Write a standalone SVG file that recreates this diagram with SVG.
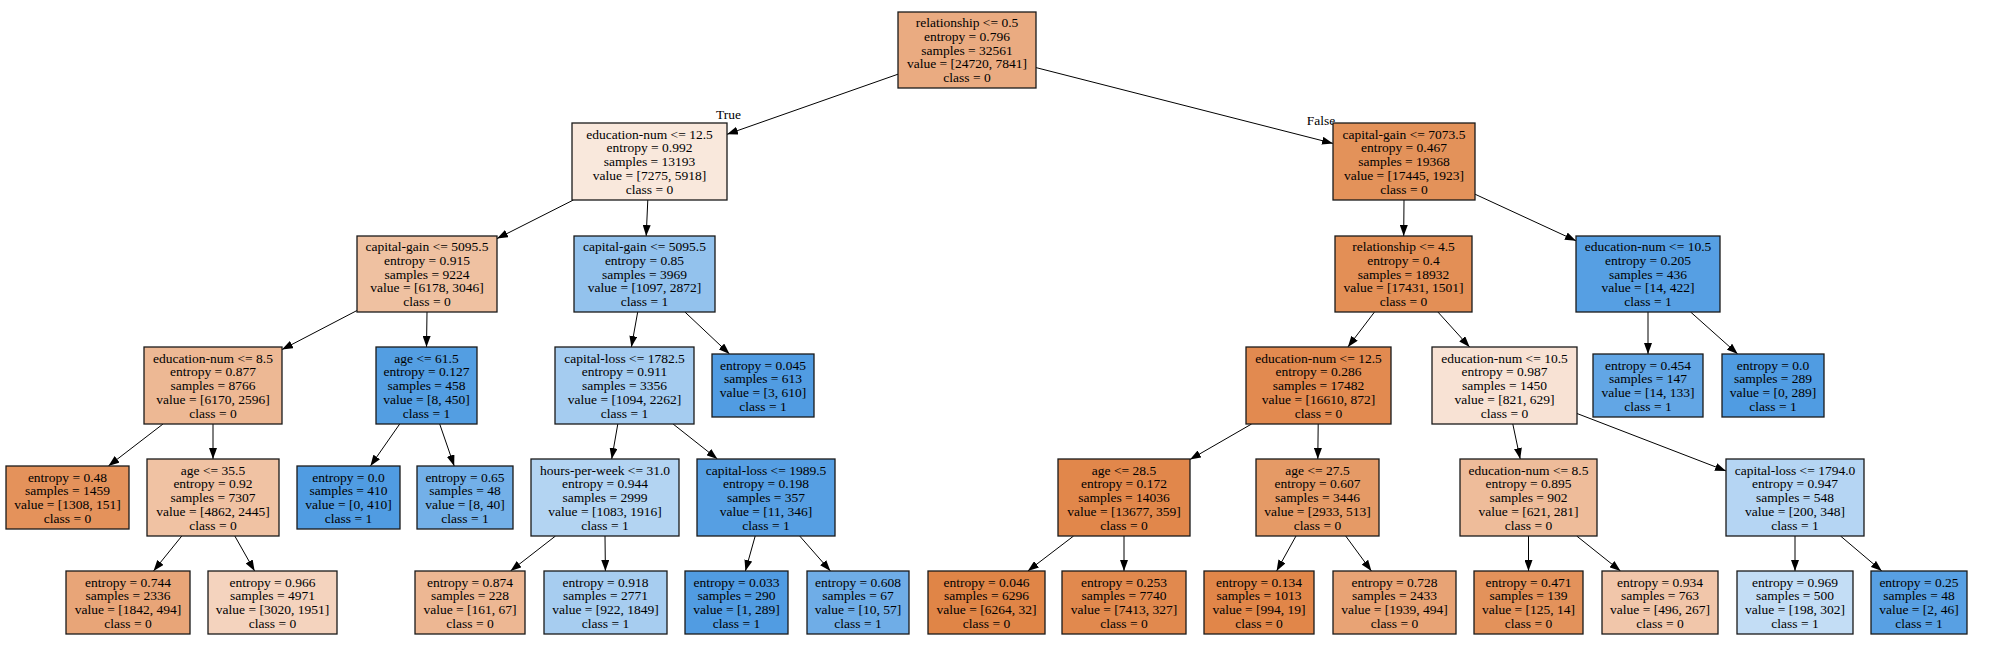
<svg xmlns="http://www.w3.org/2000/svg" width="1990" height="654" viewBox="0 0 1990 654">
<defs>
<style>
.box{stroke:#1a1a1a;stroke-width:1.3}
.t{font-family:"Liberation Serif","Times New Roman",serif;font-size:13.5px;fill:#000;text-anchor:middle}
.e{stroke:#000;stroke-width:1;fill:none;marker-end:url(#arr)}
</style>
<marker id="arr" viewBox="0 -4 11 8" refX="11" refY="0" markerWidth="11" markerHeight="8" markerUnits="userSpaceOnUse" orient="auto">
<path d="M0,-4 L11,0 L0,4 z" fill="#000"/>
</marker>
</defs>
<rect width="1990" height="654" fill="#fff"/>
<g id="edges">
<line class="e" x1="898" y1="74.2" x2="727" y2="134.3"/>
<line class="e" x1="1036" y1="67.6" x2="1333" y2="143.4"/>
<line class="e" x1="573.4" y1="200" x2="497" y2="238.6"/>
<line class="e" x1="647.8" y1="200" x2="646.2" y2="236"/>
<line class="e" x1="1404" y1="200" x2="1403.7" y2="236"/>
<line class="e" x1="1475" y1="194.2" x2="1576" y2="240.8"/>
<line class="e" x1="357" y1="310.5" x2="282" y2="349.6"/>
<line class="e" x1="427" y1="312" x2="426.5" y2="347"/>
<line class="e" x1="637.7" y1="312" x2="631.4" y2="347"/>
<line class="e" x1="684.9" y1="312" x2="729.5" y2="354"/>
<line class="e" x1="1374.5" y1="312" x2="1347.9" y2="347"/>
<line class="e" x1="1437.9" y1="312" x2="1469.6" y2="347"/>
<line class="e" x1="1648" y1="312" x2="1648" y2="354"/>
<line class="e" x1="1690.6" y1="312" x2="1737.7" y2="354"/>
<line class="e" x1="163" y1="424" x2="108.4" y2="466"/>
<line class="e" x1="213" y1="424" x2="213" y2="459"/>
<line class="e" x1="399.7" y1="424" x2="370.4" y2="466"/>
<line class="e" x1="439.7" y1="424" x2="454.2" y2="466"/>
<line class="e" x1="617.8" y1="424" x2="611.7" y2="459"/>
<line class="e" x1="673.1" y1="424" x2="717.4" y2="459"/>
<line class="e" x1="1251.6" y1="424" x2="1190" y2="459.5"/>
<line class="e" x1="1318.2" y1="424" x2="1317.8" y2="459"/>
<line class="e" x1="1512.8" y1="424" x2="1520.2" y2="459"/>
<line class="e" x1="1577" y1="413.5" x2="1726" y2="470.9"/>
<line class="e" x1="181.8" y1="536" x2="153.5" y2="571"/>
<line class="e" x1="234.8" y1="536" x2="254.6" y2="571"/>
<line class="e" x1="555.5" y1="536" x2="510.5" y2="571"/>
<line class="e" x1="605" y1="536" x2="605.4" y2="571"/>
<line class="e" x1="755.2" y1="536" x2="745.4" y2="571"/>
<line class="e" x1="799.7" y1="536" x2="830.4" y2="571"/>
<line class="e" x1="1073.6" y1="536" x2="1027.8" y2="571"/>
<line class="e" x1="1124" y1="536" x2="1124" y2="571"/>
<line class="e" x1="1296" y1="536" x2="1276.6" y2="571"/>
<line class="e" x1="1345.7" y1="536" x2="1371.4" y2="571"/>
<line class="e" x1="1528.5" y1="536" x2="1528.5" y2="571"/>
<line class="e" x1="1576.7" y1="536" x2="1620.5" y2="571"/>
<line class="e" x1="1795" y1="536" x2="1795" y2="571"/>
<line class="e" x1="1840.5" y1="536" x2="1881.8" y2="571"/>
<text class="t" x="728.5" y="118.5">True</text>
<text class="t" x="1321" y="125">False</text>
</g>

<g id="n0"><rect class="box" x="898" y="12" width="138" height="76" fill="#eaab81"/>
<text class="t" x="967" y="27.2"><tspan x="967">relationship &lt;= 0.5</tspan><tspan x="967" dy="13.75">entropy = 0.796</tspan><tspan x="967" dy="13.75">samples = 32561</tspan><tspan x="967" dy="13.75">value = [24720, 7841]</tspan><tspan x="967" dy="13.75">class = 0</tspan></text></g>

<g id="n1"><rect class="box" x="572" y="123" width="155" height="77" fill="#f9e8dc"/>
<text class="t" x="649.5" y="138.7"><tspan x="649.5">education-num &lt;= 12.5</tspan><tspan x="649.5" dy="13.75">entropy = 0.992</tspan><tspan x="649.5" dy="13.75">samples = 13193</tspan><tspan x="649.5" dy="13.75">value = [7275, 5918]</tspan><tspan x="649.5" dy="13.75">class = 0</tspan></text></g>

<g id="n16"><rect class="box" x="1333" y="123" width="142" height="77" fill="#e3925a"/>
<text class="t" x="1404" y="138.7"><tspan x="1404">capital-gain &lt;= 7073.5</tspan><tspan x="1404" dy="13.75">entropy = 0.467</tspan><tspan x="1404" dy="13.75">samples = 19368</tspan><tspan x="1404" dy="13.75">value = [17445, 1923]</tspan><tspan x="1404" dy="13.75">class = 0</tspan></text></g>

<g id="n2"><rect class="box" x="357" y="236" width="140" height="76" fill="#efc1a1"/>
<text class="t" x="427" y="251.2"><tspan x="427">capital-gain &lt;= 5095.5</tspan><tspan x="427" dy="13.75">entropy = 0.915</tspan><tspan x="427" dy="13.75">samples = 9224</tspan><tspan x="427" dy="13.75">value = [6178, 3046]</tspan><tspan x="427" dy="13.75">class = 0</tspan></text></g>

<g id="n9"><rect class="box" x="574" y="236" width="141" height="76" fill="#93c2ed"/>
<text class="t" x="644.5" y="251.2"><tspan x="644.5">capital-gain &lt;= 5095.5</tspan><tspan x="644.5" dy="13.75">entropy = 0.85</tspan><tspan x="644.5" dy="13.75">samples = 3969</tspan><tspan x="644.5" dy="13.75">value = [1097, 2872]</tspan><tspan x="644.5" dy="13.75">class = 1</tspan></text></g>

<g id="n17"><rect class="box" x="1335" y="236" width="137" height="76" fill="#e38f56"/>
<text class="t" x="1403.5" y="251.2"><tspan x="1403.5">relationship &lt;= 4.5</tspan><tspan x="1403.5" dy="13.75">entropy = 0.4</tspan><tspan x="1403.5" dy="13.75">samples = 18932</tspan><tspan x="1403.5" dy="13.75">value = [17431, 1501]</tspan><tspan x="1403.5" dy="13.75">class = 0</tspan></text></g>

<g id="n26"><rect class="box" x="1576" y="236" width="144" height="76" fill="#569fe3"/>
<text class="t" x="1648" y="251.2"><tspan x="1648">education-num &lt;= 10.5</tspan><tspan x="1648" dy="13.75">entropy = 0.205</tspan><tspan x="1648" dy="13.75">samples = 436</tspan><tspan x="1648" dy="13.75">value = [14, 422]</tspan><tspan x="1648" dy="13.75">class = 1</tspan></text></g>

<g id="n3"><rect class="box" x="144" y="347" width="138" height="77" fill="#edb894"/>
<text class="t" x="213" y="362.7"><tspan x="213">education-num &lt;= 8.5</tspan><tspan x="213" dy="13.75">entropy = 0.877</tspan><tspan x="213" dy="13.75">samples = 8766</tspan><tspan x="213" dy="13.75">value = [6170, 2596]</tspan><tspan x="213" dy="13.75">class = 0</tspan></text></g>

<g id="n7"><rect class="box" x="376" y="347" width="101" height="77" fill="#539ee2"/>
<text class="t" x="426.5" y="362.7"><tspan x="426.5">age &lt;= 61.5</tspan><tspan x="426.5" dy="13.75">entropy = 0.127</tspan><tspan x="426.5" dy="13.75">samples = 458</tspan><tspan x="426.5" dy="13.75">value = [8, 450]</tspan><tspan x="426.5" dy="13.75">class = 1</tspan></text></g>

<g id="n10"><rect class="box" x="555" y="347" width="139" height="77" fill="#a5ccf0"/>
<text class="t" x="624.5" y="362.7"><tspan x="624.5">capital-loss &lt;= 1782.5</tspan><tspan x="624.5" dy="13.75">entropy = 0.911</tspan><tspan x="624.5" dy="13.75">samples = 3356</tspan><tspan x="624.5" dy="13.75">value = [1094, 2262]</tspan><tspan x="624.5" dy="13.75">class = 1</tspan></text></g>

<g id="n13"><rect class="box" x="712" y="354" width="102" height="63" fill="#519ce2"/>
<text class="t" x="763" y="369.6"><tspan x="763">entropy = 0.045</tspan><tspan x="763" dy="13.75">samples = 613</tspan><tspan x="763" dy="13.75">value = [3, 610]</tspan><tspan x="763" dy="13.75">class = 1</tspan></text></g>

<g id="n18"><rect class="box" x="1246" y="347" width="145" height="77" fill="#e28a50"/>
<text class="t" x="1318.5" y="362.7"><tspan x="1318.5">education-num &lt;= 12.5</tspan><tspan x="1318.5" dy="13.75">entropy = 0.286</tspan><tspan x="1318.5" dy="13.75">samples = 17482</tspan><tspan x="1318.5" dy="13.75">value = [16610, 872]</tspan><tspan x="1318.5" dy="13.75">class = 0</tspan></text></g>

<g id="n21"><rect class="box" x="1432" y="347" width="145" height="77" fill="#f8e2d4"/>
<text class="t" x="1504.5" y="362.7"><tspan x="1504.5">education-num &lt;= 10.5</tspan><tspan x="1504.5" dy="13.75">entropy = 0.987</tspan><tspan x="1504.5" dy="13.75">samples = 1450</tspan><tspan x="1504.5" dy="13.75">value = [821, 629]</tspan><tspan x="1504.5" dy="13.75">class = 0</tspan></text></g>

<g id="n27"><rect class="box" x="1593" y="354" width="110" height="63" fill="#62a6e5"/>
<text class="t" x="1648" y="369.6"><tspan x="1648">entropy = 0.454</tspan><tspan x="1648" dy="13.75">samples = 147</tspan><tspan x="1648" dy="13.75">value = [14, 133]</tspan><tspan x="1648" dy="13.75">class = 1</tspan></text></g>

<g id="n28"><rect class="box" x="1722" y="354" width="102" height="63" fill="#509ce2"/>
<text class="t" x="1773" y="369.6"><tspan x="1773">entropy = 0.0</tspan><tspan x="1773" dy="13.75">samples = 289</tspan><tspan x="1773" dy="13.75">value = [0, 289]</tspan><tspan x="1773" dy="13.75">class = 1</tspan></text></g>

<g id="n4"><rect class="box" x="6" y="466" width="123" height="63" fill="#e4925b"/>
<text class="t" x="67.5" y="481.6"><tspan x="67.5">entropy = 0.48</tspan><tspan x="67.5" dy="13.75">samples = 1459</tspan><tspan x="67.5" dy="13.75">value = [1308, 151]</tspan><tspan x="67.5" dy="13.75">class = 0</tspan></text></g>

<g id="n5"><rect class="box" x="147" y="459" width="132" height="77" fill="#f0c2a3"/>
<text class="t" x="213" y="474.7"><tspan x="213">age &lt;= 35.5</tspan><tspan x="213" dy="13.75">entropy = 0.92</tspan><tspan x="213" dy="13.75">samples = 7307</tspan><tspan x="213" dy="13.75">value = [4862, 2445]</tspan><tspan x="213" dy="13.75">class = 0</tspan></text></g>

<g id="n8a"><rect class="box" x="297" y="466" width="103" height="63" fill="#509ce2"/>
<text class="t" x="348.5" y="481.6"><tspan x="348.5">entropy = 0.0</tspan><tspan x="348.5" dy="13.75">samples = 410</tspan><tspan x="348.5" dy="13.75">value = [0, 410]</tspan><tspan x="348.5" dy="13.75">class = 1</tspan></text></g>

<g id="n8b"><rect class="box" x="417" y="466" width="96" height="63" fill="#73b0e8"/>
<text class="t" x="465" y="481.6"><tspan x="465">entropy = 0.65</tspan><tspan x="465" dy="13.75">samples = 48</tspan><tspan x="465" dy="13.75">value = [8, 40]</tspan><tspan x="465" dy="13.75">class = 1</tspan></text></g>

<g id="n11"><rect class="box" x="531" y="459" width="148" height="77" fill="#b3d4f2"/>
<text class="t" x="605" y="474.7"><tspan x="605">hours-per-week &lt;= 31.0</tspan><tspan x="605" dy="13.75">entropy = 0.944</tspan><tspan x="605" dy="13.75">samples = 2999</tspan><tspan x="605" dy="13.75">value = [1083, 1916]</tspan><tspan x="605" dy="13.75">class = 1</tspan></text></g>

<g id="n14"><rect class="box" x="697" y="459" width="138" height="77" fill="#569fe3"/>
<text class="t" x="766" y="474.7"><tspan x="766">capital-loss &lt;= 1989.5</tspan><tspan x="766" dy="13.75">entropy = 0.198</tspan><tspan x="766" dy="13.75">samples = 357</tspan><tspan x="766" dy="13.75">value = [11, 346]</tspan><tspan x="766" dy="13.75">class = 1</tspan></text></g>

<g id="n19"><rect class="box" x="1058" y="459" width="132" height="77" fill="#e1874b"/>
<text class="t" x="1124" y="474.7"><tspan x="1124">age &lt;= 28.5</tspan><tspan x="1124" dy="13.75">entropy = 0.172</tspan><tspan x="1124" dy="13.75">samples = 14036</tspan><tspan x="1124" dy="13.75">value = [13677, 359]</tspan><tspan x="1124" dy="13.75">class = 0</tspan></text></g>

<g id="n22"><rect class="box" x="1256" y="459" width="123" height="77" fill="#e59a66"/>
<text class="t" x="1317.5" y="474.7"><tspan x="1317.5">age &lt;= 27.5</tspan><tspan x="1317.5" dy="13.75">entropy = 0.607</tspan><tspan x="1317.5" dy="13.75">samples = 3446</tspan><tspan x="1317.5" dy="13.75">value = [2933, 513]</tspan><tspan x="1317.5" dy="13.75">class = 0</tspan></text></g>

<g id="n23"><rect class="box" x="1460" y="459" width="137" height="77" fill="#eebc9a"/>
<text class="t" x="1528.5" y="474.7"><tspan x="1528.5">education-num &lt;= 8.5</tspan><tspan x="1528.5" dy="13.75">entropy = 0.895</tspan><tspan x="1528.5" dy="13.75">samples = 902</tspan><tspan x="1528.5" dy="13.75">value = [621, 281]</tspan><tspan x="1528.5" dy="13.75">class = 0</tspan></text></g>

<g id="n24"><rect class="box" x="1726" y="459" width="138" height="77" fill="#b5d5f3"/>
<text class="t" x="1795" y="474.7"><tspan x="1795">capital-loss &lt;= 1794.0</tspan><tspan x="1795" dy="13.75">entropy = 0.947</tspan><tspan x="1795" dy="13.75">samples = 548</tspan><tspan x="1795" dy="13.75">value = [200, 348]</tspan><tspan x="1795" dy="13.75">class = 1</tspan></text></g>

<g id="l744"><rect class="box" x="66" y="571" width="124" height="63" fill="#e8a578"/>
<text class="t" x="128" y="586.6"><tspan x="128">entropy = 0.744</tspan><tspan x="128" dy="13.75">samples = 2336</tspan><tspan x="128" dy="13.75">value = [1842, 494]</tspan><tspan x="128" dy="13.75">class = 0</tspan></text></g>

<g id="l966"><rect class="box" x="208" y="571" width="129" height="63" fill="#f4d3be"/>
<text class="t" x="272.5" y="586.6"><tspan x="272.5">entropy = 0.966</tspan><tspan x="272.5" dy="13.75">samples = 4971</tspan><tspan x="272.5" dy="13.75">value = [3020, 1951]</tspan><tspan x="272.5" dy="13.75">class = 0</tspan></text></g>

<g id="l874"><rect class="box" x="415" y="571" width="110" height="63" fill="#edb793"/>
<text class="t" x="470" y="586.6"><tspan x="470">entropy = 0.874</tspan><tspan x="470" dy="13.75">samples = 228</tspan><tspan x="470" dy="13.75">value = [161, 67]</tspan><tspan x="470" dy="13.75">class = 0</tspan></text></g>

<g id="l918"><rect class="box" x="544" y="571" width="123" height="63" fill="#a7cdf0"/>
<text class="t" x="605.5" y="586.6"><tspan x="605.5">entropy = 0.918</tspan><tspan x="605.5" dy="13.75">samples = 2771</tspan><tspan x="605.5" dy="13.75">value = [922, 1849]</tspan><tspan x="605.5" dy="13.75">class = 1</tspan></text></g>

<g id="l033"><rect class="box" x="685" y="571" width="103" height="63" fill="#519ce2"/>
<text class="t" x="736.5" y="586.6"><tspan x="736.5">entropy = 0.033</tspan><tspan x="736.5" dy="13.75">samples = 290</tspan><tspan x="736.5" dy="13.75">value = [1, 289]</tspan><tspan x="736.5" dy="13.75">class = 1</tspan></text></g>

<g id="l608"><rect class="box" x="807" y="571" width="102" height="63" fill="#6fade7"/>
<text class="t" x="858" y="586.6"><tspan x="858">entropy = 0.608</tspan><tspan x="858" dy="13.75">samples = 67</tspan><tspan x="858" dy="13.75">value = [10, 57]</tspan><tspan x="858" dy="13.75">class = 1</tspan></text></g>

<g id="l046"><rect class="box" x="928" y="571" width="117" height="63" fill="#e08547"/>
<text class="t" x="986.5" y="586.6"><tspan x="986.5">entropy = 0.046</tspan><tspan x="986.5" dy="13.75">samples = 6296</tspan><tspan x="986.5" dy="13.75">value = [6264, 32]</tspan><tspan x="986.5" dy="13.75">class = 0</tspan></text></g>

<g id="l253"><rect class="box" x="1062" y="571" width="124" height="63" fill="#e1894e"/>
<text class="t" x="1124" y="586.6"><tspan x="1124">entropy = 0.253</tspan><tspan x="1124" dy="13.75">samples = 7740</tspan><tspan x="1124" dy="13.75">value = [7413, 327]</tspan><tspan x="1124" dy="13.75">class = 0</tspan></text></g>

<g id="l134"><rect class="box" x="1204" y="571" width="110" height="63" fill="#e18649"/>
<text class="t" x="1259" y="586.6"><tspan x="1259">entropy = 0.134</tspan><tspan x="1259" dy="13.75">samples = 1013</tspan><tspan x="1259" dy="13.75">value = [994, 19]</tspan><tspan x="1259" dy="13.75">class = 0</tspan></text></g>

<g id="l728"><rect class="box" x="1333" y="571" width="123" height="63" fill="#e8a375"/>
<text class="t" x="1394.5" y="586.6"><tspan x="1394.5">entropy = 0.728</tspan><tspan x="1394.5" dy="13.75">samples = 2433</tspan><tspan x="1394.5" dy="13.75">value = [1939, 494]</tspan><tspan x="1394.5" dy="13.75">class = 0</tspan></text></g>

<g id="l471"><rect class="box" x="1474" y="571" width="109" height="63" fill="#e3925b"/>
<text class="t" x="1528.5" y="586.6"><tspan x="1528.5">entropy = 0.471</tspan><tspan x="1528.5" dy="13.75">samples = 139</tspan><tspan x="1528.5" dy="13.75">value = [125, 14]</tspan><tspan x="1528.5" dy="13.75">class = 0</tspan></text></g>

<g id="l934"><rect class="box" x="1602" y="571" width="116" height="63" fill="#f1c6aa"/>
<text class="t" x="1660" y="586.6"><tspan x="1660">entropy = 0.934</tspan><tspan x="1660" dy="13.75">samples = 763</tspan><tspan x="1660" dy="13.75">value = [496, 267]</tspan><tspan x="1660" dy="13.75">class = 0</tspan></text></g>

<g id="l969"><rect class="box" x="1737" y="571" width="116" height="63" fill="#c3ddf5"/>
<text class="t" x="1795" y="586.6"><tspan x="1795">entropy = 0.969</tspan><tspan x="1795" dy="13.75">samples = 500</tspan><tspan x="1795" dy="13.75">value = [198, 302]</tspan><tspan x="1795" dy="13.75">class = 1</tspan></text></g>

<g id="l25"><rect class="box" x="1871" y="571" width="96" height="63" fill="#58a0e3"/>
<text class="t" x="1919" y="586.6"><tspan x="1919">entropy = 0.25</tspan><tspan x="1919" dy="13.75">samples = 48</tspan><tspan x="1919" dy="13.75">value = [2, 46]</tspan><tspan x="1919" dy="13.75">class = 1</tspan></text></g>
</svg>
